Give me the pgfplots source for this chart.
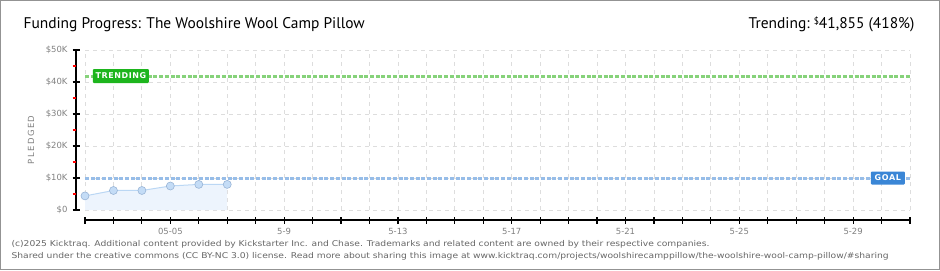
\documentclass[border=0pt]{standalone}
\usepackage{fontspec}
\setmainfont{PT Sans}
\newfontfamily\footfont[FakeStretch=1.15]{DejaVu Sans}
\newfontfamily\pixfont{DejaVu Sans}
\usepackage{pgfplots}
\pgfplotsset{compat=1.18}
\definecolor{gridc}{HTML}{DDDDDD}
\definecolor{tickc}{HTML}{808080}
\definecolor{trendl}{HTML}{86D27A}
\definecolor{trendbox}{HTML}{1DB51D}
\definecolor{goall}{HTML}{97BDE8}
\definecolor{goalbox}{HTML}{3A86D6}
\definecolor{areaf}{HTML}{EDF4FD}
\definecolor{linec}{HTML}{BBD7F4}
\definecolor{markf}{HTML}{C4DCF6}
\definecolor{markd}{HTML}{98B4D6}
\begin{document}
\begin{tikzpicture}[x=1bp,y=1bp]
\path[use as bounding box] (0,0) rectangle (940,270);
\draw[line width=1.5bp, draw=gray!85] (0.75,0.75) rectangle (939.25,269.25);
\begin{axis}[
  at={(85bp,60bp)}, anchor=south west, scale only axis,
  width=825bp, height=160bp,
  xmin=0, xmax=29, ymin=0, ymax=50000,
  axis line style={draw=none}, tick style={draw=none},
  xtick={0,...,29},
  xticklabels={,,,05-05,,,,5-9,,,,5-13,,,,5-17,,,,5-21,,,,5-25,,,,5-29,,},
  ytick={0,10000,20000,30000,40000,50000},
  yticklabels={\$0,\$10K,\$20K,\$30K,\$40K,\$50K},
  scaled y ticks=false,
  grid=major, grid style={dash pattern=on 4bp off 4bp, color=gridc, line width=0.8bp},
  clip=false,
  tick label style={font=\pixfont\fontsize{8.5}{9}\selectfont, text=tickc},
  xticklabel style={yshift=-15bp},
  yticklabel style={xshift=-14bp},
]
\addplot[fill=areaf, draw=none] coordinates {(0,4400) (1,6100) (2,6100) (3,7500) (4,8000) (5,8000)} \closedcycle;
\addplot[trendl, line width=3bp, dash pattern=on 4bp off 1.7bp] coordinates {(0,41855) (29,41855)};
\addplot[goall, line width=3bp, dash pattern=on 4bp off 1.7bp] coordinates {(0,10000) (29,10000)};
\addplot[linec, line width=1bp, mark=*, mark size=4bp, mark options={fill=markf, draw=markd, line width=0.6bp}] coordinates {(0,4400) (1,6100) (2,6100) (3,7500) (4,8000) (5,8000)};
\node[fill=trendbox, text=white, rounded corners=1bp, minimum width=56bp, minimum height=14bp, inner sep=0bp, anchor=west, font=\pixfont\bfseries\fontsize{8}{9}\selectfont] at (axis cs:0.27,41855) {T\kern0.6bp R\kern0.6bp E\kern0.6bp N\kern0.6bp D\kern0.6bp I\kern0.6bp N\kern0.6bp G};
\node[fill=goalbox, text=white, rounded corners=1bp, minimum width=34bp, minimum height=13bp, inner sep=0bp, font=\pixfont\bfseries\fontsize{8}{9}\selectfont] at (axis cs:28.22,10000) {G\kern0.6bp O\kern0.6bp A\kern0.6bp L};
\end{axis}
% offset axis lines and ticks
\draw[line width=1.2bp] (76,60) -- (76,220);
\foreach \k in {0,...,5} {\draw[line width=1.2bp] (72.5,60+32*\k) -- (79.5,60+32*\k);}
\foreach \k in {0,...,4} {\draw[red, line width=1.2bp] (72.5,76+32*\k) -- (76,76+32*\k);}
\draw[line width=1.2bp] (85,50) -- (910,50);
\foreach \k in {0,...,29} {\draw[line width=1.2bp] (85+28.4483*\k,46.5) -- (85+28.4483*\k,53.5);}
\node[rotate=90, text=tickc, font=\pixfont\fontsize{8.5}{9}\selectfont] at (31,130) {P\,L\,E\,D\,G\,E\,D};
\node[anchor=base west, font=\fontsize{15.5}{16}\selectfont] at (20,242) {Funding Progress: The Woolshire Wool Camp Pillow};
\node[anchor=base east, font=\fontsize{15.5}{16}\selectfont] at (918,242) {Trending:\ \raisebox{3.5bp}{\fontsize{9.5}{9}\selectfont\$}41,855 (418\%)};
\node[anchor=base west, text=black!60, font=\footfont\fontsize{8}{9}\selectfont] at (8,24) {(c)2025 Kicktraq. Additional content provided by Kickstarter Inc. and Chase. Trademarks and related content are owned by their respective companies.};
\node[anchor=base west, text=black!60, font=\footfont\fontsize{8}{9}\selectfont] at (8,12) {Shared under the creative commons (CC BY-NC 3.0) license. Read more about sharing this image at www.kicktraq.com/projects/woolshirecamppillow/the-woolshire-wool-camp-pillow/\#sharing};
\end{tikzpicture}
\end{document}
